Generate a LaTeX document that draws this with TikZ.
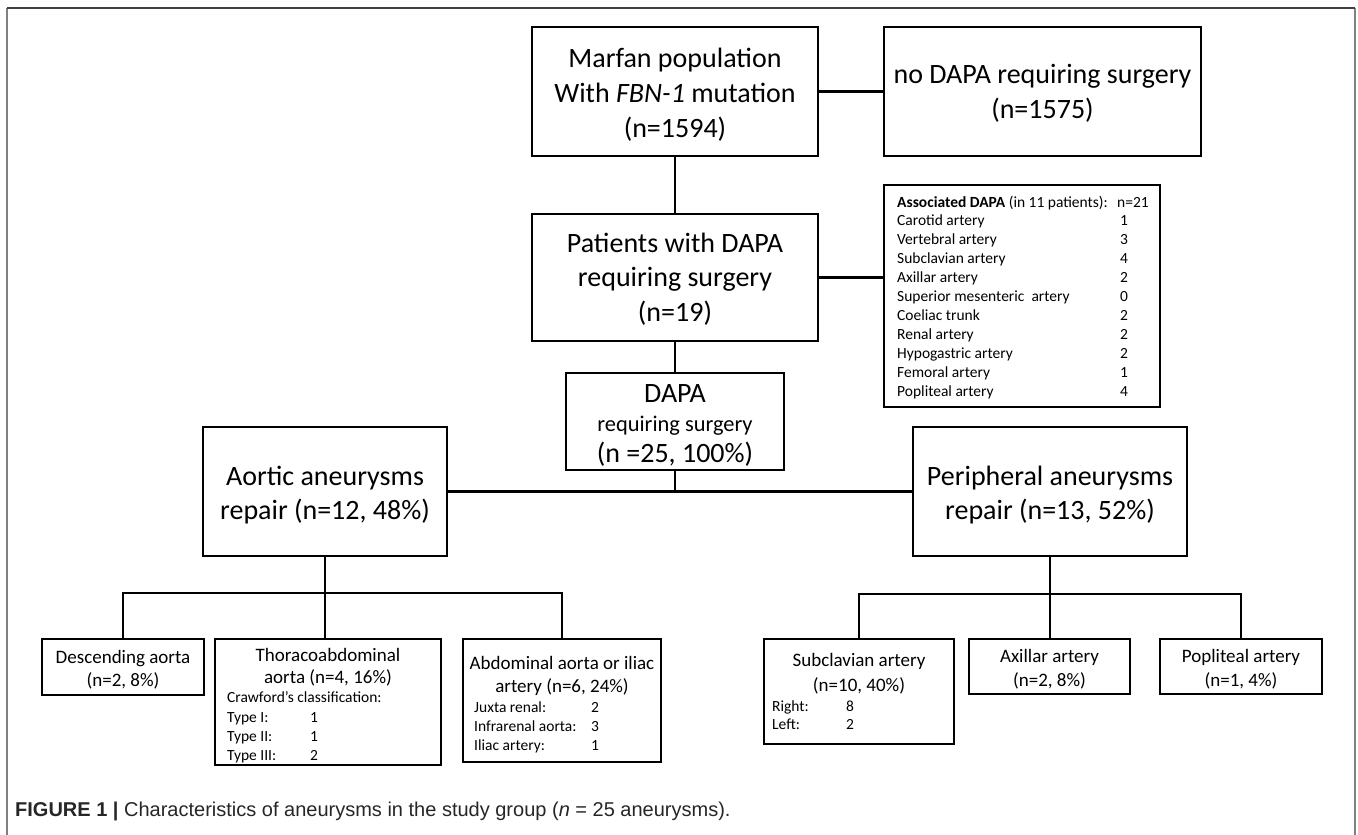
\documentclass[tikz,border=0pt]{standalone}
\usepackage{fontspec}
\setmainfont{Carlito}
\newfontfamily\capfont{Liberation Sans}
\begin{document}
\begin{tikzpicture}[x=1pt,y=-1pt,
  box/.style={draw=black, line width=2.4pt, inner sep=0pt, outer sep=0pt},
  link/.style={draw=black, line width=2.2pt},
  big/.style={font=\fontsize{28}{34.5}\selectfont, anchor=base, inner sep=0pt},
  medium/.style={font=\fontsize{22.4}{27}\selectfont, anchor=base, inner sep=0pt},
  mid/.style={font=\fontsize{19}{23}\selectfont, anchor=base, inner sep=0pt},
  small/.style={font=\fontsize{15.5}{19}\selectfont, anchor=base west, inner sep=0pt},
  frame/.style={draw=black!50, line width=1.4pt}
]
\useasboundingbox (0,0) rectangle (1358,835);
% frame
\draw[frame] (7,835) -- (7,8);
\draw[frame] (1355,8) -- (1355,835);
\draw[frame, draw=black!75] (7,8) -- (1355,8);

% boxes
\node[box, minimum width=286, minimum height=129] (marfan)   at (675,91.5)  {};
\node[box, minimum width=317, minimum height=129] (nodapa)   at (1042.5,91.5) {};
\node[box, minimum width=286, minimum height=127] (patients) at (675,277.5) {};
\node[box, minimum width=276, minimum height=222] (table)    at (1022,296)  {};
\node[box, minimum width=218, minimum height=97]  (dapa)     at (675,421.5) {};
\node[box, minimum width=244, minimum height=129] (aortic)   at (325,491.5) {};
\node[box, minimum width=274, minimum height=129] (periph)   at (1050,491.5) {};
\node[box, minimum width=162, minimum height=56]  (desc)     at (123,667)   {};
\node[box, minimum width=226, minimum height=126] (thoraco)  at (328,702)   {};
\node[box, minimum width=198, minimum height=123] (abd)      at (562,700.5) {};
\node[box, minimum width=190, minimum height=105] (subcl)    at (859,691.5) {};
\node[box, minimum width=161, minimum height=55]  (axil)     at (1049.5,666.5) {};
\node[box, minimum width=162, minimum height=55]  (popl)     at (1241,666.5) {};

% texts: top
\node[big] (m1) at (675,67)  {Marfan population};
\node[big] (m2) at (675,102) {With \textit{FBN-1} mutation};
\node[big] (m3) at (675,137) {(n=1594)};
\node[big] (n1) at (1042.5,83)  {no DAPA requiring surgery};
\node[big] (n2) at (1042.5,118) {(n=1575)};
\node[big] (p1) at (675,252) {Patients with DAPA};
\node[big] (p2) at (675,286) {requiring surgery};
\node[big] (p3) at (675,321) {(n=19)};
\node[big] (d1) at (675,402) {DAPA};
\node[medium] (d2) at (675,431) {requiring surgery};
\node[big] (d3) at (675,462) {(n =25, 100\%)};
\node[big] (a1) at (325,485) {Aortic aneurysms};
\node[big] (a2) at (325,519) {repair (n=12, 48\%)};
\node[big] (e1) at (1050,485) {Peripheral aneurysms};
\node[big] (e2) at (1050,519) {repair (n=13, 52\%)};

% table
\node[small] (th) at (897,207) {\textbf{Associated DAPA} (in 11 patients):};
\node[small] (tn) at (1117,207) {n=21};
\foreach \lab/\num [count=\i] in {Carotid artery/1, Vertebral artery/3, Subclavian artery/4, Axillar artery/2, Superior mesenteric~ artery/0, Coeliac trunk/2, Renal artery/2, Hypogastric artery/2, Femoral artery/1, Popliteal artery/4}{
  \node[small] (rl\i) at (897,{207+18.9*\i}) {\lab};
  \node[small] (rn\i) at (1120,{207+18.9*\i}) {\num};
}

% bottom texts
\node[mid] (s1) at (123,663) {Descending aorta};
\node[mid] (s2) at (123,686) {(n=2, 8\%)};
\node[mid] (h1) at (328,661) {Thoracoabdominal};
\node[mid] (h2) at (328,683) {aorta (n=4, 16\%)};
\node[small] (h3) at (227,702) {Crawford’s classification:};
\node[small] (h4) at (227,722) {Type I:};
\node[small] (h5) at (227,741) {Type II:};
\node[small] (h6) at (227,760) {Type III:};
\node[small] (h7) at (310,722) {1};
\node[small] (h8) at (310,741) {1};
\node[small] (h9) at (310,760) {2};
\node[mid] (b1) at (562,669) {Abdominal aorta or iliac};
\node[mid] (b2) at (562,692) {artery (n=6, 24\%)};
\node[small] (b3) at (474,712) {Juxta renal:};
\node[small] (b4) at (474,731) {Infrarenal aorta:};
\node[small] (b5) at (474,750) {Iliac artery:};
\node[small] (b6) at (591,712) {2};
\node[small] (b7) at (591,731) {3};
\node[small] (b8) at (591,750) {1};
\node[mid] (c1) at (859,666) {Subclavian artery};
\node[mid] (c2) at (859,691) {(n=10, 40\%)};
\node[small] (c3) at (772,711) {Right:};
\node[small] (c4) at (772,729) {Left:};
\node[small] (c5) at (846,711) {8};
\node[small] (c6) at (846,729) {2};
\node[mid] (x1) at (1049.5,662) {Axillar artery};
\node[mid] (x2) at (1049.5,686) {(n=2, 8\%)};
\node[mid] (o1) at (1241,662) {Popliteal artery};
\node[mid] (o2) at (1241,686) {(n=1, 4\%)};

% caption
\node[anchor=base west, inner sep=0pt, font=\capfont\fontsize{20}{24}\selectfont, text=black!85] (cap) at (15,816)
  {\textbf{FIGURE 1 |} Characteristics of aneurysms in the study group (\textit{n} = 25 aneurysms).};

% connectors
\draw[link] (marfan.east) -- (nodapa.west);
\draw[link] (marfan.south) -- (patients.north);
\draw[link] (patients.east) -- (patients.east -| table.west);
\draw[link] (patients.south) -- (dapa.north);
\draw[link] (aortic.east) -- (periph.west);
\draw[link] (dapa.south) -- (dapa.south |- aortic.east);
\coordinate (ajun) at (325,593);
\draw[link] (aortic.south) -- (ajun);
\draw[link] (desc.north) |- (ajun) -| (abd.north);
\draw[link] (ajun) -- (ajun |- thoraco.north);
\coordinate (pjun) at (1050,594);
\draw[link] (periph.south) -- (pjun);
\draw[link] (subcl.north) |- (pjun) -| (popl.north);
\draw[link] (pjun) -- (pjun |- axil.north);
\end{tikzpicture}
\end{document}
